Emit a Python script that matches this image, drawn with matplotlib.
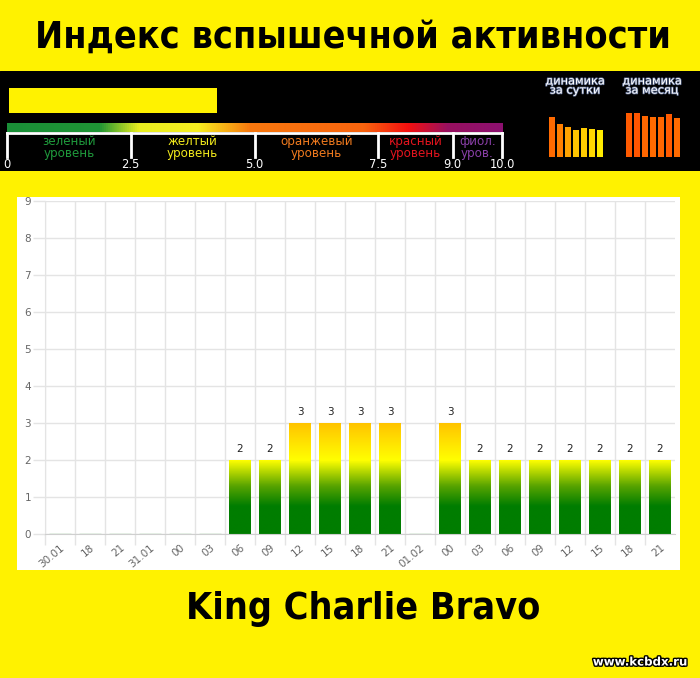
import numpy as np
import matplotlib
matplotlib.use("Agg")
import matplotlib.pyplot as plt
from matplotlib.colors import LinearSegmentedColormap, Normalize
from matplotlib.patches import Rectangle
import matplotlib.patheffects as pe

# ---- data ----
time_labels = ["30.01", "18", "21", "31.01", "00", "03", "06", "09", "12", "15",
               "18", "21", "01.02", "00", "03", "06", "09", "12", "15", "18", "21"]
flare_index = [0, 0, 0, 0, 0, 0, 2, 2, 3, 3, 3, 3, 0, 3, 2, 2, 2, 2, 2, 2, 2]

scale_ticks = [0, 2.5, 5.0, 7.5, 9.0, 10.0]
scale_tick_labels = ["0", "2.5", "5.0", "7.5", "9.0", "10.0"]
level_names = ["зеленый\nуровень", "желтый\nуровень", "оранжевый\nуровень",
               "красный\nуровень", "фиол.\nуров."]
level_colors = ["#1f9a3c", "#f2ea1c", "#f07a1e", "#e3141e", "#8a3fa8"]
current_level = 4.2

day_dynamics = [3.97, 3.27, 2.97, 2.73, 2.87, 2.77, 2.67]
day_colors = ["#ff6a00", "#ff7f00", "#ffa200", "#ffc400", "#ffcc00", "#ffd800", "#ffec00"]
month_dynamics = [4.40, 4.37, 4.10, 3.97, 3.97, 4.27, 3.87]
month_colors = ["#ff5a00", "#ff5500", "#ff6600", "#ff6a00", "#ff6600", "#ff5a00", "#ff6a00"]

YELLOW = "#fff200"
W, H = 700, 678

fig = plt.figure(figsize=(W / 100, H / 100), dpi=100)
fig.patch.set_facecolor(YELLOW)


def box(x0, y0, x1, y1):
    """pixel box (top-left origin) -> figure fraction rect"""
    return [x0 / W, 1 - y1 / H, (x1 - x0) / W, (y1 - y0) / H]


def fx(x):
    return x / W


def fy(y):
    return 1 - y / H


narrow = dict(family="DejaVu Sans", stretch="condensed", weight="bold")

# ---- title ----
fig.text(fx(353), fy(38), "Индекс вспышечной активности", fontsize=27,
         ha="center", va="center", color="black", **narrow)

# ---- black info band ----
band = fig.add_axes(box(0, 71, 700, 171))
band.set_xlim(0, 700)
band.set_ylim(171, 71)
band.axis("off")
band.add_patch(Rectangle((0, 71), 700, 100, color="black", zorder=0))

# scale axis: 0..10 mapped onto pixels 7..502
scale = fig.add_axes(box(7, 123, 502, 132))
scale.set_xlim(0, 10)
scale.set_ylim(0, 1)
scale.axis("off")
scale_cmap = LinearSegmentedColormap.from_list("lvl", [
    (0.00, "#1a8f38"), (0.185, "#1f9535"), (0.265, "#e8ee20"), (0.385, "#f6ee20"),
    (0.49, "#f8780e"), (0.72, "#f8640e"), (0.81, "#f41010"), (0.89, "#981060"),
    (1.00, "#8c1070")])
grad = np.linspace(0, 1, 512).reshape(1, -1)
scale.imshow(grad, cmap=scale_cmap, extent=[0, 10, 0, 1], aspect="auto")

# current level bar
lvl = fig.add_axes(box(9, 88, 502, 113))
lvl.set_xlim(0, 10 * (502 - 9) / (502 - 7))
lvl.set_ylim(0, 1)
lvl.axis("off")
lvl.barh(0.5, current_level, height=1.0, left=0, color=YELLOW)

# bracket with level names and tick numbers
brk = fig.add_axes(box(7, 130, 502, 172))
brk.set_xlim(0, 10)
brk.set_ylim(172, 130)
brk.axis("off")
brk.plot([0, 10], [133, 133], color="white", lw=2, clip_on=False)
for t in scale_ticks:
    brk.plot([t, t], [133, 157], color="white", lw=2, clip_on=False)
for t, s in zip(scale_ticks, scale_tick_labels):
    brk.text(t, 165, s, color="white", fontsize=8.3, ha="center", va="center",
             clip_on=False)
for i, (name, col) in enumerate(zip(level_names, level_colors)):
    mid = (scale_ticks[i] + scale_ticks[i + 1]) / 2
    brk.text(mid, 147.5, name, color=col, fontsize=8.6, ha="center", va="center",
             linespacing=0.9)

# mini dynamics charts
for x0, x1, vals, cols, title, cx in [
        (548, 604, day_dynamics, day_colors, "динамика\nза сутки", 575),
        (625, 681, month_dynamics, month_colors, "динамика\nза месяц", 652)]:
    m = fig.add_axes(box(x0, 112, x1, 157))
    m.set_xlim(-0.5, len(vals) - 0.5)
    m.set_ylim(0, 4.5)
    m.axis("off")
    m.bar(range(len(vals)), vals, width=0.86, color=cols)
    fig.text(fx(cx), fy(86), title, color="white", fontsize=8.2, ha="center",
             va="center", linespacing=0.9,
             path_effects=[pe.withStroke(linewidth=1.0, foreground="#5a6a90")])

# ---- main chart panel ----
panel = fig.add_axes(box(17, 197, 680, 570))
panel.axis("off")
panel.add_patch(Rectangle((0, 0), 1, 1, transform=panel.transAxes,
                          color="white", zorder=0))

ax = fig.add_axes(box(45, 201, 675, 534))
ax.set_facecolor("none")
n = len(flare_index)
grid_c = "#e4e4e4"
for s in ["top", "right"]:
    ax.spines[s].set_visible(False)
ax.spines["left"].set_color(grid_c)
ax.spines["bottom"].set_color("#cfcfcf")
ax.set_yticks(range(0, 10))
ax.set_yticklabels([str(v) for v in range(0, 10)])
ax.set_xticks(range(0, n))
ax.set_xticklabels([""] * n)
ax.set_xticks(np.arange(n) + 0.5, minor=True)
ax.set_xticklabels(time_labels, minor=True, rotation=40, ha="right",
                   rotation_mode="anchor", va="top")
ax.tick_params(axis="x", which="major", length=8, color=grid_c, width=1)
ax.tick_params(axis="x", which="minor", length=0, pad=6, labelsize=7.5,
               labelcolor="#666666")
ax.tick_params(axis="y", length=9, color=grid_c, width=1, pad=1,
               labelsize=7.5, labelcolor="#666666")
ax.grid(True, which="major", color=grid_c, lw=1, zorder=0)
ax.set_axisbelow(True)

bar_cmap = LinearSegmentedColormap.from_list("bars", [
    (0.0, "#007d00"), (0.75 / 3, "#007d00"), (1.3 / 3, "#58a400"),
    (2.0 / 3, "#ffff00"), (1.0, "#ffc400")])
norm = Normalize(0, 3)
xs = np.arange(n) + 0.5
bars = ax.bar(xs, flare_index, width=0.72, facecolor="none",
              edgecolor="#9ccf9c", linewidth=1, zorder=3)
col = np.linspace(0, 3, 300).reshape(-1, 1)
for rect, v in zip(bars, flare_index):
    if v <= 0:
        continue
    x0 = rect.get_x()
    img = ax.imshow(col, cmap=bar_cmap, norm=norm, origin="lower",
                    extent=[x0, x0 + rect.get_width(), 0, 3], aspect="auto",
                    zorder=2, interpolation="bilinear")
    img.set_clip_path(rect)
    rect.set_edgecolor("none")
    ax.annotate(str(v), (rect.get_x() + rect.get_width() / 2, v),
                xytext=(0, 4), textcoords="offset points", ha="center",
                va="bottom", fontsize=7.5, color="#222222")
ax.set_xlim(0, n)
ax.set_ylim(0, 9)

# ---- footer ----
fig.text(fx(363), fy(609), "King Charlie Bravo", fontsize=27, ha="center",
         va="center", color="black", **narrow)
fig.text(fx(640), fy(662), "www.kcbdx.ru", weight="bold", fontsize=8.5,
         ha="center", va="center", color="white",
         path_effects=[pe.withStroke(linewidth=2, foreground="black")])

fig.savefig("out.png", dpi=100, facecolor=YELLOW)
